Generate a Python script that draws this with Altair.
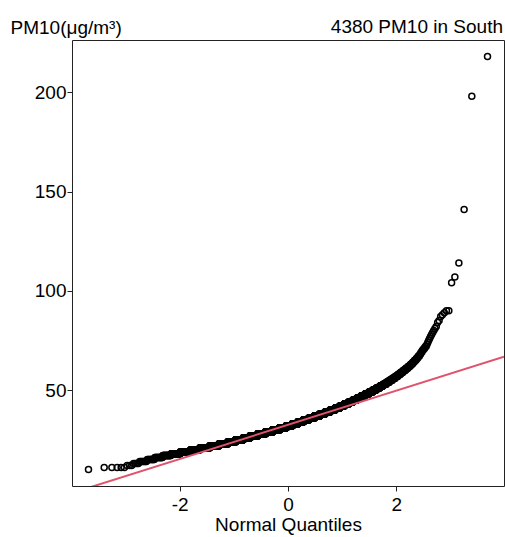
import altair as alt
import numpy as np
import pandas as pd
from statistics import NormalDist

pm10_values = [10, 11, 12, 13, 14, 15, 16, 17, 18, 19, 20, 21, 22, 23, 24, 25, 26, 27, 28, 29,
               30, 31, 32, 33, 34, 35, 36, 37, 38, 39, 40, 41, 42, 43, 44, 45, 46, 47, 48, 49,
               50, 51, 52, 53, 54, 55, 56, 57, 58, 59, 60, 61, 62, 63, 64, 65, 66, 67, 68, 69,
               70, 71, 72, 73, 74, 75, 76, 77, 78, 79, 80, 81, 82, 84, 85, 87, 88, 89, 90,
               104, 107, 114, 141, 198, 218]
pm10_counts = [1, 5, 3, 4, 7, 10, 15, 22, 35, 55, 70, 98, 120, 140, 147, 163, 167, 205, 218, 222,
               218, 210, 196, 182, 170, 165, 160, 150, 140, 124, 116, 100, 88, 78, 70, 62, 55, 49, 44, 38,
               33, 28, 24, 21, 18, 16, 14, 12, 10, 9, 8, 7, 6, 5, 4, 4, 3, 3, 2, 2,
               2, 2, 2, 1, 1, 1, 1, 1, 1, 1, 1, 1, 1, 1, 1, 1, 1, 1, 2,
               1, 1, 1, 1, 1, 1]

# reference line (qqline)
line_intercept = 32.5
line_slope = 8.6

x_domain = [-3.99, 3.99]
y_domain = [1.7, 226.3]
x_ticks = [-2, 0, 2]
y_ticks = [50, 100, 150, 200]

chart_title = "4380 PM10 in South"
x_title = "Normal Quantiles"
y_title = "PM10(μg/m³)"

# build the sample and its theoretical normal quantiles (ppoints)
sample = np.repeat(pm10_values, pm10_counts)
n = len(sample)
nd = NormalDist()
theo = [nd.inv_cdf((i - 0.5) / n) for i in range(1, n + 1)]
df = pd.DataFrame({"q": theo, "pm10": sample})

line_df = pd.DataFrame({
    "q": x_domain,
    "pm10": [line_intercept + line_slope * v for v in x_domain],
})
title_df = pd.DataFrame({"label": [chart_title]})

FONT = "Liberation Sans"
FS = 19
INK = "#222222"
W, H = 432, 446

xscale = alt.Scale(domain=x_domain, nice=False, zero=False)
yscale = alt.Scale(domain=y_domain, nice=False, zero=False)

points = alt.Chart(df).mark_point(
    shape="circle", filled=False, color="black", size=36, strokeWidth=1.5, opacity=1
).encode(
    x=alt.X("q:Q", scale=xscale, axis=alt.Axis(
        values=x_ticks, title=x_title, grid=False, domain=False,
        tickSize=5, tickColor=INK, labelPadding=4,
        labelExpr="datum.value < 0 ? '-' + abs(datum.value) : '' + datum.value",
        labelFont=FONT, labelFontSize=FS, labelColor="black",
        titleFont=FONT, titleFontSize=FS, titleFontWeight="normal", titleColor="black",
        titleBaseline="alphabetic", titleY=44,
    )),
    y=alt.Y("pm10:Q", scale=yscale, axis=alt.Axis(
        values=y_ticks, title=y_title, grid=False, domain=False,
        tickSize=5, tickColor=INK, labelPadding=1,
        labelFont=FONT, labelFontSize=FS, labelColor="black",
        titleFont=FONT, titleFontSize=FS, titleFontWeight="normal", titleColor="black",
        titleAngle=0, titleAlign="left", titleBaseline="alphabetic",
        titleX=-62, titleY=-7,
    )),
)

line = alt.Chart(line_df).mark_line(color="#DF536B", strokeWidth=2, clip=True).encode(
    x=alt.X("q:Q", scale=xscale),
    y=alt.Y("pm10:Q", scale=yscale),
)

title_text = alt.Chart(title_df).mark_text(
    font=FONT, fontSize=FS, color="black", align="right", baseline="alphabetic"
).encode(
    text="label:N",
    x=alt.value(W - 1),
    y=alt.value(-7),
)

chart = alt.layer(points, line, title_text).properties(
    width=W,
    height=H,
    autosize="none",
    padding={"left": 72, "top": 40, "right": 1, "bottom": 51},
).configure_view(stroke=INK, strokeWidth=1)

chart.save("out.html", embed_options={"renderer": "svg", "actions": False})
